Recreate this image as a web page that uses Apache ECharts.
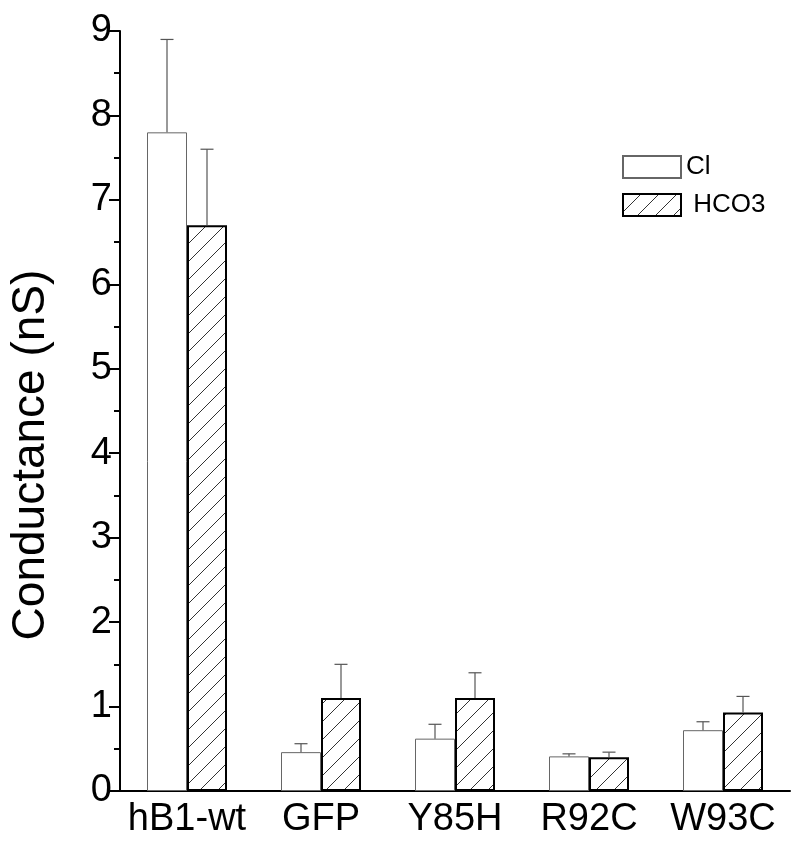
<!DOCTYPE html>
<html>
<head>
<meta charset="utf-8">
<script src="https://cdn.jsdelivr.net/npm/echarts@6/dist/echarts.min.js"></script>
<style>
  html, body { margin: 0; padding: 0; background: #fff; }
  #chart { width: 800px; height: 850px; }
</style>
</head>
<body>
<div id="chart"></div>
<script>
// data
var categories = ['hB1-wt', 'GFP', 'Y85H', 'R92C', 'W93C'];
var clMean = [7.8, 0.46, 0.62, 0.41, 0.72];
var clSd = [1.1, 0.1, 0.17, 0.03, 0.1];
var hco3Mean = [6.7, 1.1, 1.1, 0.4, 0.93];
var hco3Sd = [0.9, 0.4, 0.3, 0.06, 0.19];

var BAR_W = 40;

// diagonal hatch for the HCO3 bars
function makeHatch() {
  var s = 18;
  var c = document.createElement('canvas');
  c.width = s; c.height = s;
  var ctx = c.getContext('2d');
  ctx.strokeStyle = '#333';
  ctx.lineWidth = 1;
  ctx.beginPath();
  ctx.moveTo(0, s); ctx.lineTo(s, 0);
  ctx.moveTo(-2, 2); ctx.lineTo(2, -2);
  ctx.moveTo(s - 2, s + 2); ctx.lineTo(s + 2, s - 2);
  ctx.stroke();
  return { image: c, repeat: 'repeat' };
}
var hatch = makeHatch();

function errData(mean, sd) {
  return mean.map(function (m, i) { return [i, m, sd[i]]; });
}

// error bar (upper half only) with a small cap
function errRender(offset) {
  return function (params, api) {
    var i = api.value(0);
    var m = api.value(1);
    var sd = api.value(2);
    var base = api.coord([i, m]);
    var top = api.coord([i, m + sd]);
    var x = base[0] + offset;
    var style = { stroke: '#555', lineWidth: 1.2 };
    return {
      type: 'group',
      children: [
        { type: 'line', shape: { x1: x, y1: base[1], x2: x, y2: top[1] }, style: style },
        { type: 'line', shape: { x1: x - 6.5, y1: top[1], x2: x + 6.5, y2: top[1] }, style: style }
      ]
    };
  };
}

var myChart = echarts.init(document.getElementById('chart'));
var option = {
  animation: false,
  textStyle: { fontFamily: 'Liberation Sans, Arial, sans-serif' },
  grid: { left: 118, right: 10, top: 31, bottom: 59, containLabel: false },
  legend: {
    left: 617,
    top: 149,
    orient: 'vertical',
    icon: 'rect',
    itemWidth: 58,
    itemHeight: 22,
    itemGap: 12,
    selectedMode: false,
    data: ['Cl', 'HCO3'],
    formatter: function (name) { return name === 'HCO3' ? ' ' + name : name; },
    textStyle: { fontSize: 26, color: '#000' }
  },
  xAxis: {
    type: 'category',
    data: categories,
    axisLine: { lineStyle: { color: '#000', width: 2 } },
    axisTick: { show: false },
    axisLabel: { fontSize: 38, color: '#000', margin: 10, interval: 0, hideOverlap: false },
    splitLine: { show: false }
  },
  yAxis: {
    type: 'value',
    min: 0,
    max: 9,
    interval: 1,
    name: 'Conductance (nS)',
    nameLocation: 'middle',
    nameGap: 66,
    nameTextStyle: { fontSize: 46, color: '#000', padding: [0, 88, 0, 0] },
    axisLine: { show: true, lineStyle: { color: '#000', width: 2 } },
    axisTick: { show: true, length: 11, lineStyle: { color: '#000', width: 2 } },
    minorTick: { show: true, splitNumber: 2, length: 6, lineStyle: { color: '#000', width: 2 } },
    axisLabel: { fontSize: 38, color: '#000', margin: 8 },
    splitLine: { show: false }
  },
  series: [
    {
      name: 'Cl',
      type: 'bar',
      data: clMean,
      barWidth: BAR_W,
      barGap: '0%',
      itemStyle: { color: '#fff', borderColor: '#666', borderWidth: 1 }
    },
    {
      name: 'HCO3',
      type: 'bar',
      data: hco3Mean,
      barWidth: BAR_W,
      barGap: '0%',
      itemStyle: { color: hatch, borderColor: '#000', borderWidth: 2 }
    },
    {
      type: 'custom',
      renderItem: errRender(-BAR_W / 2),
      encode: { x: 0, y: 1 },
      data: errData(clMean, clSd),
      z: 3
    },
    {
      type: 'custom',
      renderItem: errRender(BAR_W / 2),
      encode: { x: 0, y: 1 },
      data: errData(hco3Mean, hco3Sd),
      z: 3
    }
  ]
};
option && myChart.setOption(option);
</script>
</body>
</html>
